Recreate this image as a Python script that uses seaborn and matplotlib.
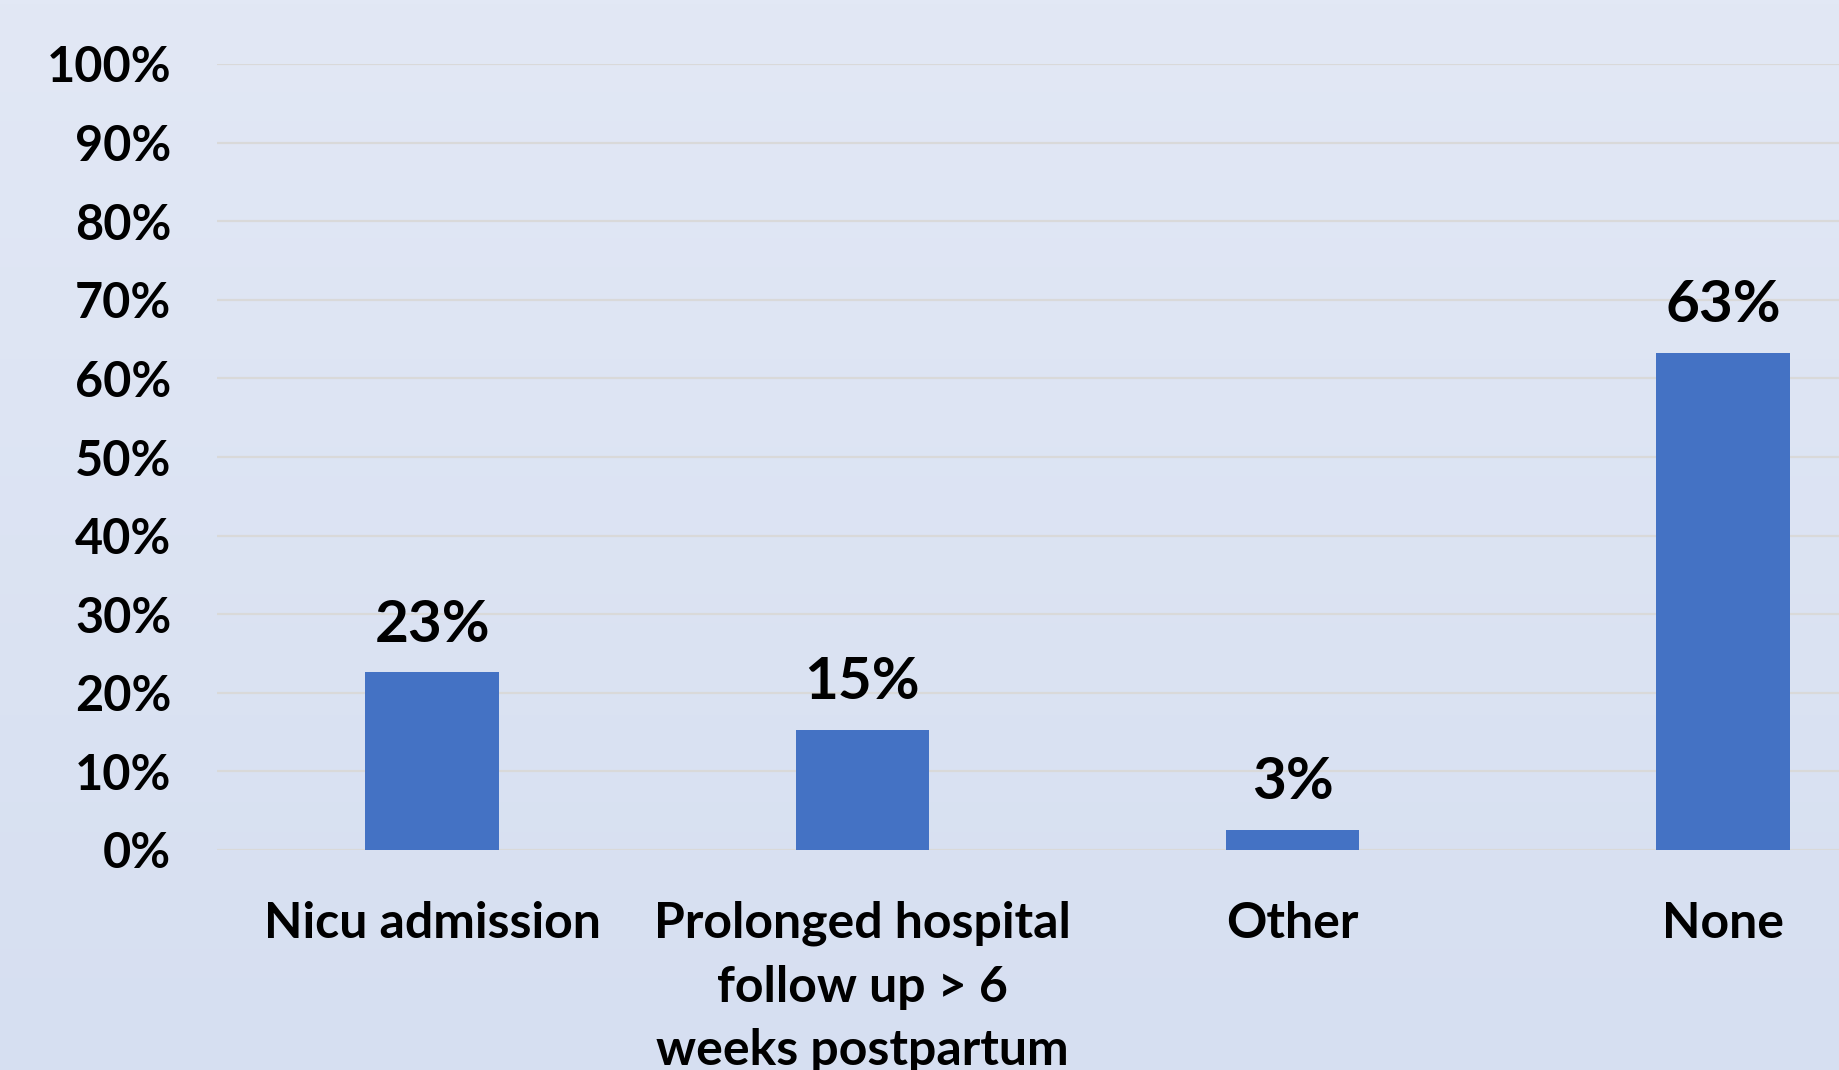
import numpy as np
import pandas as pd
import matplotlib
matplotlib.use("Agg")
import matplotlib.pyplot as plt
import seaborn as sns

categories = ["Nicu admission", "Prolonged hospital\nfollow up > 6\nweeks postpartum", "Other", "None"]
values = [22.6, 15.3, 2.6, 63.2]
value_labels = ["23%", "15%", "3%", "63%"]
yticks = [0, 10, 20, 30, 40, 50, 60, 70, 80, 90, 100]
ytick_labels = [f"{t}%" for t in yticks]

sns.set_theme(style="white")
plt.rcParams['font.family'] = ['Lato', 'DejaVu Sans']

W, H = 1839, 1070
fig = plt.figure(figsize=(W / 100, H / 100), dpi=100)

# gradient background
bg = fig.add_axes([0, 0, 1, 1], zorder=-10)
grad = np.linspace(0, 1, 256).reshape(-1, 1)
top = np.array([226, 232, 245]) / 255
bot = np.array([214, 223, 241]) / 255
img = top[None, None, :] * (1 - grad[:, :, None]) + bot[None, None, :] * grad[:, :, None]
bg.imshow(img, aspect="auto", extent=[0, 1, 0, 1])
bg.axis("off")

left = 217 / W
right = 1938 / W
bottom = 1 - 850 / H
topf = 1 - 64 / H
ax = fig.add_axes([left, bottom, right - left, topf - bottom])
ax.set_facecolor("none")

df = pd.DataFrame({"cat": categories, "val": values})
sns.barplot(data=df, x="cat", y="val", color="#4472C4", width=0.31, ax=ax,
            saturation=1, linewidth=0)

ax.set_ylim(0, 100)
ax.set_xlim(-0.5, 3.5)
ax.set_yticks(yticks)
ax.set_yticklabels(ytick_labels)
ax.yaxis.grid(True, color="#D9D9D9", linewidth=1.6)
ax.set_axisbelow(True)
for s in ax.spines.values():
    s.set_visible(False)
ax.set_xlabel("")
ax.set_ylabel("")
ax.tick_params(axis="y", length=0, pad=33, labelsize=35)
ax.tick_params(axis="x", length=0, pad=36.5, labelsize=36)
for lbl in ax.get_yticklabels():
    lbl.set_fontweight("bold")
    lbl.set_color("black")
for lbl in ax.get_xticklabels():
    lbl.set_fontweight("bold")
    lbl.set_color("black")
    lbl.set_linespacing(1.5)
    lbl.set_multialignment("center")

ax.bar_label(ax.containers[0], labels=value_labels, padding=15, fontsize=42,
             fontweight="bold", color="black")

fig.savefig("out.png", dpi=100)
